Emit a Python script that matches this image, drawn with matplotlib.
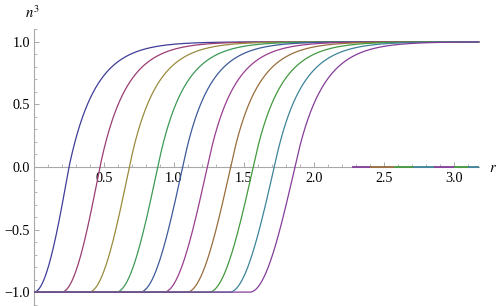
import numpy as np
import matplotlib
matplotlib.use("Agg")
import matplotlib.pyplot as plt
from matplotlib.ticker import FixedLocator, FuncFormatter

plt.rcParams["font.family"] = "serif"
plt.rcParams["font.serif"] = ["Liberation Serif", "DejaVu Serif"]
plt.rcParams["mathtext.fontset"] = "stix"

# ---- data ----
# zero-crossing radius of each n^3 profile, width of its lower (core) side
# and decay length of its upper (tail) side
crossings = [0.250, 0.471, 0.681, 0.884, 1.062, 1.238, 1.405, 1.566, 1.716, 1.864]
width_lo = [0.160, 0.175, 0.185, 0.190, 0.195, 0.198, 0.200, 0.202, 0.204, 0.206]
width_hi = [0.190, 0.188, 0.186, 0.185, 0.184, 0.185, 0.186, 0.188, 0.190, 0.192]
colors = [
    (0.2472, 0.24, 0.6), (0.6, 0.24, 0.4429), (0.6, 0.547, 0.24),
    (0.24, 0.6, 0.3369), (0.24, 0.3532, 0.6), (0.6, 0.24, 0.5633),
    (0.6, 0.4266, 0.24), (0.2635, 0.6, 0.24), (0.24, 0.5163, 0.6),
    (0.5163, 0.24, 0.6),
]
r_max = 3.18
# coloured pieces lying on the r axis (start, end, colour index)
tail_starts = [2.27, 2.40, 2.57, 2.71, 2.86, 3.00, 3.10]
tail_ends = [2.40, 2.57, 2.71, 2.86, 3.00, 3.10, 3.18]
tail_cidx = [9, 6, 7, 8, 9, 7, 8]

xticks_major = [0.5, 1.0, 1.5, 2.0, 2.5, 3.0]
yticks_major = [-1.0, -0.5, 0.0, 0.5, 1.0]

# ---- figure ----
W, H = 498, 306
fig = plt.figure(figsize=(W / 100, H / 100), dpi=100)
ax = fig.add_axes([0, 0, 1, 1])
x0_px, y0_px, sx, sy = 34.0, 167.0, 140.0, 125.2
ax.set_xlim(-x0_px / sx, (W - x0_px) / sx)
ax.set_ylim(-(H - y0_px) / sy, y0_px / sy)

r = np.linspace(0, r_max, 1200)
for c, wl, wh, col in zip(crossings, width_lo, width_hi, colors):
    x = r - c
    lower = -np.sin(np.clip(-x / wl, 0, np.pi / 2))
    upper = 1.0 - np.exp(-np.clip(x, 0, None) / wh)
    n3 = np.where(x < 0, lower, upper)
    ax.plot(r, n3, color=col, lw=0.9, zorder=3, solid_capstyle="butt")

for s, e, ci in zip(tail_starts, tail_ends, tail_cidx):
    ax.plot([s, e], [0, 0], color=colors[ci], lw=1.3, zorder=3, solid_capstyle="butt")

axis_col = "#a8a8a8"
for side in ["top", "right"]:
    ax.spines[side].set_visible(False)
ax.spines["left"].set_position(("data", 0))
ax.spines["bottom"].set_position(("data", 0))
ax.spines["left"].set_bounds(-1.1, 1.1)
ax.spines["bottom"].set_bounds(0, r_max)
for side in ["left", "bottom"]:
    ax.spines[side].set_color(axis_col)
    ax.spines[side].set_linewidth(0.8)
ax.set_axisbelow(True)
ax.patch.set_visible(False)

ax.xaxis.set_major_locator(FixedLocator(xticks_major))
ax.xaxis.set_minor_locator(FixedLocator(np.round(np.arange(0.1, 3.15, 0.1), 2)))
ax.yaxis.set_major_locator(FixedLocator(yticks_major))
ax.yaxis.set_minor_locator(FixedLocator(np.round(np.arange(-1.1, 1.15, 0.1), 2)))
fmt = FuncFormatter(lambda v, p: f"{v:.1f}".replace("-", "\u2212"))
ax.xaxis.set_major_formatter(fmt)
ax.yaxis.set_major_formatter(fmt)

ax.tick_params(which="major", direction="in", length=3.4, width=0.7, color=axis_col,
               labelsize=10.2, labelcolor="black", labelfontfamily="Liberation Serif")
ax.tick_params(which="minor", direction="in", length=1.9, width=0.6, color=axis_col)
ax.tick_params(axis="x", which="major", pad=3.5)
ax.tick_params(axis="y", which="major", pad=3.0)

fig.text(32 / W, 1 - 13 / H, r"$n^3$", ha="center", va="center", fontsize=10.5)
fig.text(489 / W, 1 - 168 / H, r"$r$", ha="left", va="center", fontsize=10.5)

fig.savefig("out.png", dpi=100)
